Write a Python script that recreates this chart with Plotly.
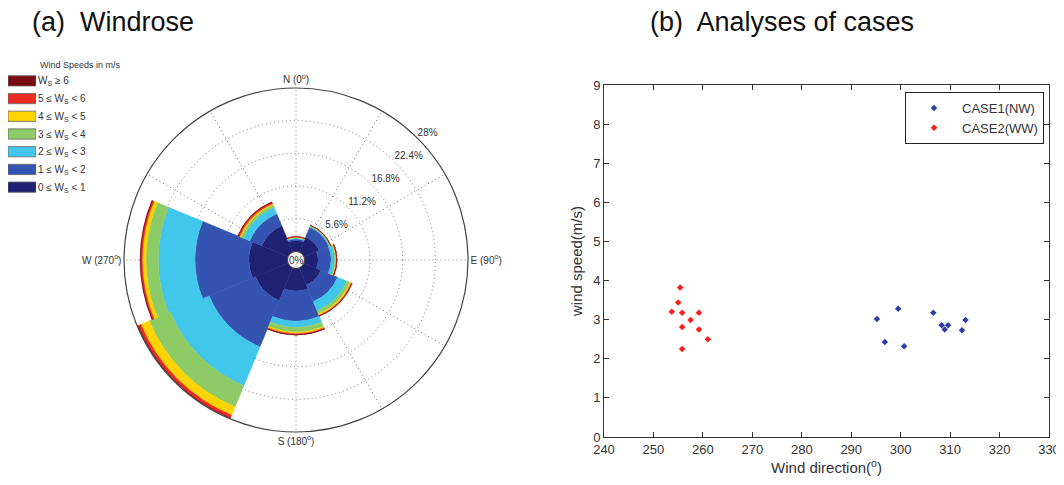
import plotly.graph_objects as go

# page body has an 8px margin: the figure is sized to fill the rest of the window
OFF = 8
W, H = 1064 - OFF, 485 - OFF

# ---------------- Data: windrose ----------------
directions = [0, 45, 90, 135, 180, 225, 270, 315]
bin_labels = ["0 \u2264 W<sub>S</sub> &lt; 1", "1 \u2264 W<sub>S</sub> &lt; 2", "2 \u2264 W<sub>S</sub> &lt; 3",
              "3 \u2264 W<sub>S</sub> &lt; 4", "4 \u2264 W<sub>S</sub> &lt; 5", "5 \u2264 W<sub>S</sub> &lt; 6",
              "W<sub>S</sub> \u2265 6"]
bin_colors = ["#1f2175", "#3553b0", "#41c6ec", "#8dcb66", "#ffd400", "#ec2b23", "#7a0c12"]
# frequency (%) per direction for each speed bin
freq_0_1 = [1.87, 2.81, 2.30, 3.15, 3.84, 6.07, 6.58, 4.87]
freq_1_2 = [0.25, 1.80, 2.22, 3.09, 5.14, 8.56, 9.25, 2.22]
freq_2_3 = [0.18, 0.17, 0.60, 1.71, 1.03, 7.20, 6.29, 1.20]
freq_3_4 = [0.10, 0.09, 0.17, 0.57, 0.85, 3.94, 2.11, 0.43]
freq_4_5 = [0.07, 0.05, 0.12, 0.25, 0.26, 1.54, 0.63, 0.26]
freq_5_6 = [0.05, 0.05, 0.09, 0.16, 0.17, 0.52, 0.28, 0.26]
freq_6up = [0.03, 0.03, 0.05, 0.05, 0.09, 0.12, 0.12, 0.08]
freqs = [freq_0_1, freq_1_2, freq_2_3, freq_3_4, freq_4_5, freq_5_6, freq_6up]

radial_ticks = [5.6, 11.2, 16.8, 22.4, 28]
radial_ticktext = ["5.6%", "11.2%", "16.8%", "22.4%", "28%"]
compass_vals = [0, 90, 180, 270]
compass_text = ["N (0<sup>o</sup>)", "E (90<sup>o</sup>)", "S (180<sup>o</sup>)", "W (270<sup>o</sup>)"]

# ---------------- Data: scatter ----------------
case1_dir = [295.2, 299.5, 296.8, 300.7, 306.6, 308.3, 309.6, 308.9, 313.1, 312.4]
case1_ws = [3.02, 3.28, 2.43, 2.32, 3.18, 2.86, 2.86, 2.75, 2.99, 2.73]
case2_dir = [255.4, 255.0, 253.7, 255.8, 259.2, 257.5, 255.8, 259.2, 261.0, 255.8]
case2_ws = [3.82, 3.44, 3.20, 3.18, 3.18, 2.99, 2.81, 2.75, 2.50, 2.25]
x_ticks = list(range(240, 331, 10))
y_ticks = list(range(0, 10))

FONT = "Liberation Sans, Arial, sans-serif"
TXT = "#333333"

def px(x):
    return (x - OFF) / W

def py(y):
    return 1 - (y - OFF) / H

POLAR_X = [124, 468]
POLAR_Y = [88, 432]

fig = go.Figure()

# windrose bars
for lab, col, vals in zip(bin_labels, bin_colors, freqs):
    fig.add_trace(go.Barpolar(
        r=vals, theta=directions, width=[45] * len(directions),
        marker=dict(color=col, line=dict(width=0.4, color=col)),
        name=lab, showlegend=False, subplot="polar", hoverinfo="skip"))

# radial tick labels
fig.add_trace(go.Scatterpolar(
    r=radial_ticks, theta=[45] * len(radial_ticks),
    mode="text", text=radial_ticktext, textposition="top right",
    textfont=dict(size=10, color=TXT, family=FONT),
    cliponaxis=False, showlegend=False, subplot="polar", hoverinfo="skip"))

# windrose legend swatches (horizontal bars on a small axis)
leg_order = list(reversed(bin_labels))
leg_colors = list(reversed(bin_colors))
fig.add_trace(go.Bar(
    x=[1] * len(leg_order), y=leg_order, orientation="h",
    marker=dict(color=leg_colors, line=dict(color="#666666", width=0.8)),
    xaxis="x3", yaxis="y3", showlegend=False, hoverinfo="skip"))

# scatter
fig.add_trace(go.Scatter(
    x=case1_dir, y=case1_ws, mode="markers", name="CASE1(NW)",
    marker=dict(symbol="diamond", size=5, color="#2c3fa6"),
    xaxis="x", yaxis="y"))
fig.add_trace(go.Scatter(
    x=case2_dir, y=case2_ws, mode="markers", name="CASE2(WW)",
    marker=dict(symbol="diamond", size=5, color="#ff1c1c"),
    xaxis="x", yaxis="y"))

axis_common = dict(showline=True, linecolor="#333333", linewidth=1, mirror="ticks",
                   ticks="inside", ticklen=5, tickcolor="#333333", showgrid=False,
                   zeroline=False, tickfont=dict(size=13, color=TXT, family=FONT))

fig.update_layout(
    width=W, height=H,
    margin=dict(l=0, r=0, t=0, b=0, pad=0, autoexpand=False),
    paper_bgcolor="white", plot_bgcolor="white",
    font=dict(family=FONT, color=TXT),
    polar=dict(
        domain=dict(x=[px(POLAR_X[0]), px(POLAR_X[1])], y=[py(POLAR_Y[1]), py(POLAR_Y[0])]),
        hole=0.05,
        bgcolor="white",
        barmode="stack", bargap=0,
        angularaxis=dict(
            rotation=90, direction="clockwise",
            tickmode="array", tickvals=list(range(0, 360, 30)),
            ticktext=[compass_text[compass_vals.index(v)] if v in compass_vals else "" for v in range(0, 360, 30)],
            ticks="", showline=True, linecolor="#444444", linewidth=1.2,
            showgrid=True, gridcolor="#777777", griddash="1px,3px", gridwidth=1,
            tickfont=dict(size=10, color=TXT, family=FONT)),
        radialaxis=dict(
            range=[0, 28], tickmode="array", tickvals=radial_ticks,
            showticklabels=False, ticks="", showline=False,
            showgrid=True, gridcolor="#777777", griddash="1px,3px", gridwidth=1),
    ),
    xaxis=dict(domain=[px(604), px(1049)], range=[240, 330], tickvals=x_ticks,
               title=dict(text="Wind direction(<sup>o</sup>)", font=dict(size=15, color=TXT, family=FONT), standoff=6),
               anchor="y", automargin=False, **axis_common),
    yaxis=dict(domain=[py(437), py(85)], range=[0, 9], tickvals=y_ticks,
               title=dict(text="wind speed(m/s)", font=dict(size=15, color=TXT, family=FONT), standoff=6),
               anchor="x", automargin=False, **axis_common),
    xaxis3=dict(domain=[px(8), px(36)], range=[0, 1], visible=False, anchor="y3", fixedrange=True),
    yaxis3=dict(domain=[py(196), py(72)], anchor="x3", side="right", autorange="reversed",
                showline=False, showgrid=False, zeroline=False, ticks="", automargin=False,
                tickfont=dict(size=10, color=TXT, family=FONT), ticklabelstandoff=1, fixedrange=True),
    bargap=0.42,
    showlegend=True,
    legend=dict(x=px(1044), xanchor="right", y=py(92), yanchor="top",
                bordercolor="#222222", borderwidth=1, bgcolor="white",
                font=dict(size=13, color=TXT, family=FONT),
                tracegroupgap=0, itemwidth=46),
    annotations=[
        dict(text="(a)  Windrose", x=px(30), y=py(22), xref="paper", yref="paper",
             xanchor="left", yanchor="middle", showarrow=False,
             font=dict(size=27, color="#111111", family=FONT)),
        dict(text="(b)  Analyses of cases", x=px(648), y=py(22), xref="paper", yref="paper",
             xanchor="left", yanchor="middle", showarrow=False,
             font=dict(size=27, color="#111111", family=FONT)),
        dict(text="Wind Speeds in m/s", x=px(80), y=py(65), xref="paper", yref="paper",
             xanchor="center", yanchor="middle", showarrow=False,
             font=dict(size=9, color=TXT, family=FONT)),
        dict(text="0%", x=px(sum(POLAR_X) / 2), y=py(sum(POLAR_Y) / 2), xref="paper", yref="paper",
             xanchor="center", yanchor="middle", showarrow=False,
             font=dict(size=10, color=TXT, family=FONT)),
    ],
)

fig.write_html("out.html")
